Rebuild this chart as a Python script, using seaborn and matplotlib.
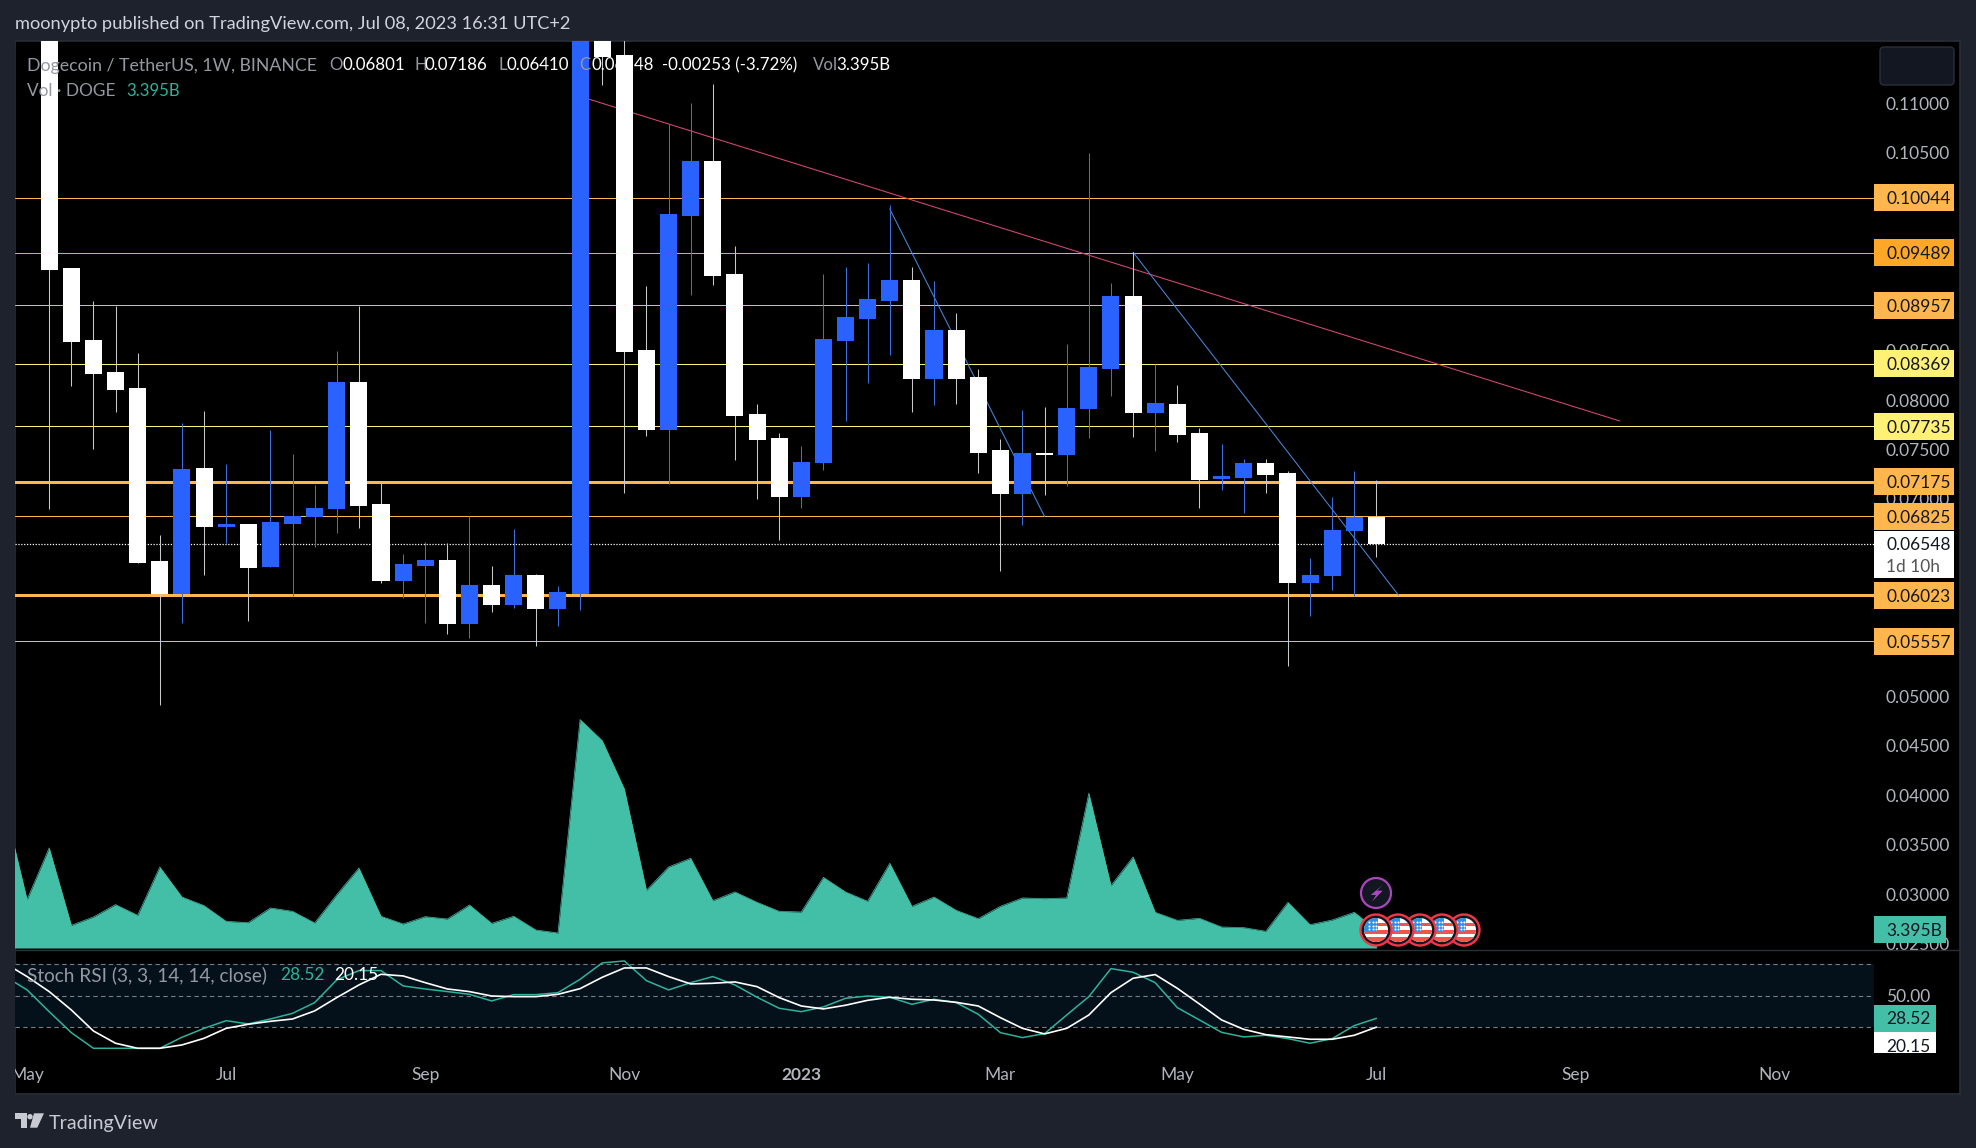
import numpy as np
import pandas as pd
import matplotlib
matplotlib.use("Agg")
import matplotlib.pyplot as plt
import seaborn as sns
from matplotlib.patches import Rectangle, Circle, Polygon, FancyBboxPatch

# ---------- data ----------
opens = [0.12500,0.09323,0.08592,0.08271,0.08113,0.06360,0.06035,0.07300,0.06717,0.06735,0.06306,0.06749,0.06813,0.06893,0.08172,0.06939,0.06171,0.06324,0.06365,0.05737,0.06112,0.05927,0.06220,0.05886,0.06035,0.14000,0.11482,0.08497,0.07697,0.09865,0.10403,0.09265,0.07847,0.07603,0.07020,0.07359,0.08596,0.08822,0.09003,0.09201,0.08212,0.08696,0.08217,0.07485,0.07051,0.07454,0.07440,0.07906,0.08316,0.09044,0.07869,0.07946,0.07657,0.07201,0.07214,0.07350,0.07250,0.06148,0.06216,0.06672,0.06801]
closes = [0.09314,0.08587,0.08262,0.08099,0.06351,0.06035,0.07295,0.06717,0.06735,0.06302,0.06749,0.06817,0.06898,0.08172,0.06930,0.06171,0.06324,0.06365,0.05733,0.06112,0.05927,0.06216,0.05886,0.06044,0.14000,0.11469,0.08488,0.07697,0.09865,0.10403,0.09256,0.07837,0.07594,0.07020,0.07359,0.08601,0.08827,0.09007,0.09201,0.08212,0.08696,0.08212,0.07463,0.07047,0.07449,0.07440,0.07910,0.08321,0.09039,0.07869,0.07955,0.07648,0.07187,0.07223,0.07350,0.07241,0.06148,0.06216,0.06672,0.06801,0.06548]
highs = [0.13000,0.09323,0.09003,0.08953,0.08474,0.06636,0.07765,0.07887,0.07350,0.06735,0.07697,0.07454,0.07142,0.08497,0.08953,0.07183,0.06446,0.06559,0.06550,0.06830,0.06320,0.06695,0.06243,0.06117,0.15000,0.14500,0.12000,0.09152,0.10796,0.11004,0.11198,0.09558,0.07959,0.07666,0.07539,0.09274,0.09346,0.09382,0.09969,0.09346,0.09201,0.08885,0.08312,0.07607,0.07901,0.07928,0.08565,0.10498,0.09183,0.09495,0.08366,0.08154,0.07720,0.07553,0.07404,0.07404,0.07277,0.06401,0.07020,0.07282,0.07186]
lows = [0.06898,0.08140,0.07503,0.07883,0.06351,0.04915,0.05742,0.06229,0.06555,0.05760,0.06306,0.06022,0.06514,0.06654,0.06704,0.06148,0.05995,0.05742,0.05633,0.05597,0.05859,0.05891,0.05516,0.05715,0.05877,0.11189,0.07061,0.07634,0.07146,0.09061,0.09165,0.07395,0.06997,0.06582,0.06907,0.07295,0.07788,0.08172,0.08456,0.07883,0.07946,0.07959,0.07259,0.06266,0.06740,0.07043,0.07133,0.07612,0.08041,0.07630,0.07485,0.07575,0.06907,0.07088,0.06862,0.07061,0.05308,0.05814,0.06076,0.06022,0.06410]
# volume in billions, from two weeks before the first candle
volume_b = [26.5,9.12,18.87,4.28,5.85,8.18,6.16,15.28,9.62,7.99,5.03,4.78,7.55,6.92,4.72,10.06,15.1,5.98,4.53,5.91,5.47,8.11,4.65,5.98,3.40,2.83,43.09,39.12,30.0,10.88,15.28,16.92,8.93,10.57,8.62,6.92,6.79,13.33,10.57,8.81,15.98,7.86,9.62,7.11,5.54,7.86,9.44,9.31,9.44,29.19,11.76,17.17,6.73,5.22,5.6,3.96,3.84,3.15,8.62,4.40,5.28,6.73,3.395]
stoch_k = [68.6,55.6,34.9,14.9,0,0,0,0,10.5,19.0,26.3,23.2,27.9,33.3,43.5,65.1,74.0,74.0,59.4,56.5,54.0,51.4,45.1,51.1,51.1,53.0,65.7,81.3,83.2,64.4,55.6,62.5,68.3,60.3,48.6,38.1,34.9,39.4,47.6,49.8,48.6,41.9,46.7,43.5,32.4,14.9,10.2,14.0,31.7,49.2,75.9,72.4,62.5,38.7,27.0,15.2,10.8,12.4,9.2,4.8,9.2,21.6,28.52]
stoch_d = [81.0,68.3,54.0,36.5,16.5,4.8,0,0,3.2,9.5,19.0,22.9,25.7,27.9,35.6,48.3,60.3,70.5,68.9,62.5,56.5,54.0,49.8,49.2,49.2,51.4,56.8,67.6,76.5,76.5,68.3,61.3,61.9,63.2,58.7,48.3,40.3,37.5,41.0,45.7,48.6,46.7,46.0,43.8,40.3,29.2,19.0,13.7,19.0,31.7,53.0,66.7,70.2,57.1,42.2,27.0,18.1,13.0,10.8,8.6,8.6,12.4,20.15]
level_prices = [0.10044,0.09489,0.08957,0.08369,0.07735,0.07175,0.06825,0.06023,0.05557]
level_labels = ["0.10044","0.09489","0.08957","0.08369","0.07735","0.07175","0.06825","0.06023","0.05557"]
level_colors = ["#ffb74d","#ffa726","#ffb74d","#fff176","#fff176","#ffb74d","#ffb74d","#ffb74d","#ffb74d"]
level_widths = [1,1,1,1,1,3,1,3,1]
price_ticks = [0.11,0.105,0.085,0.08,0.075,0.07,0.05,0.045,0.04,0.035,0.03,0.025]
last_price = 0.06548
time_pos = [-1,8,17,26,34,43,51,60,69,78]
time_labels = ["May","Jul","Sep","Nov","2023","Mar","May","Jul","Sep","Nov"]
pink_i, pink_p = [24.4,71.0],[0.11044,0.07788]
blue1_i, blue1_p = [38,45],[0.09933,0.06821]
blue2_i, blue2_p = [49,61],[0.09495,0.06026]

# ---------- style ----------
FRAME="#1e222d"; GRID="#2a2e39"; BLUE="#2962ff"; TEAL="#43bfa8"; AXIS="#b2b5be"; MUTED="#9598a1"
sns.set_theme(style="dark")
FONT=["Lato","DejaVu Sans"]
plt.rcParams["font.family"]=FONT
W,H=1976,1148
fig=plt.figure(figsize=(W/100,H/100),dpi=100,facecolor=FRAME)
def box(l,t,r,b): return [l/W,1-b/H,(r-l)/W,(b-t)/H]
bg=Rectangle((15/W,1-1094/H),1945/W,1053/H,transform=fig.transFigure,facecolor="black",edgecolor=GRID,linewidth=1.2,zorder=-5)
fig.patches.append(bg)

XMIN=(15-49.2)/22.12; XMAX=(1874-49.2)/22.12
candle_idx=np.arange(len(opens))
ind_idx=np.arange(-2,len(opens))

# volume pane
axv=fig.add_axes(box(15,41,1874,950),facecolor="none")
vol_df=pd.DataFrame({"i":ind_idx,"v":volume_b})
axv.fill_between(vol_df["i"],vol_df["v"],0,color=TEAL,linewidth=0)
sns.lineplot(data=vol_df,x="i",y="v",ax=axv,color=TEAL,linewidth=0.5,legend=False)
axv.set_xlim(XMIN,XMAX); axv.set_ylim(-2/5.302,907/5.302); axv.axis("off")

# price pane
ax=fig.add_axes(box(15,41,1874,950),facecolor="none")
ax.set_xlim(XMIN,XMAX); ax.set_ylim(0.02436,0.11632)
for p,c_,w in zip(level_prices,level_colors,level_widths):
    ax.axhline(p,color=c_,linewidth=w*0.72,zorder=1)
ax.axhline(last_price,color="white",linewidth=0.9,linestyle=(0,(1,1.3)),zorder=1)
ax.plot(pink_i,pink_p,color="#d8487a",linewidth=0.75,zorder=1.5)
ax.plot(blue1_i,blue1_p,color="#4a86d8",linewidth=0.75,zorder=1.5)
ax.plot(blue2_i,blue2_p,color="#4a86d8",linewidth=0.75,zorder=1.5)
o=np.array(opens);c=np.array(closes);hi=np.array(highs);lo=np.array(lows)
colors=np.where(c>o,BLUE,"#ffffff")
wick=np.where(c>o,"#3a6fe0","#c9c9c9")
ax.vlines(candle_idx,lo,hi,colors=list(wick),linewidth=0.75,zorder=2)
ax.bar(candle_idx,np.abs(c-o)+0.00012,bottom=np.minimum(o,c),width=0.77,color=list(colors),linewidth=0,zorder=3)
ax.yaxis.tick_right()
ax.set_yticks(price_ticks)
ax.set_yticklabels([f"{t:.5f}" for t in price_ticks],color=AXIS,fontsize=12.5,ha="left")
ax.tick_params(axis="y",length=0,pad=8.6)
ax.set_xticks([]); ax.grid(False)
for s in ax.spines.values(): s.set_visible(False)

# stochastic pane
axs=fig.add_axes(box(15,952,1874,1053),facecolor="none")
axs.axhspan(20,80,color="#04111b",linewidth=0,zorder=0)
for lv in (80,50,20):
    axs.axhline(lv,color="#787b86",linewidth=0.8,linestyle=(0,(4,3)),zorder=1)
sto=pd.DataFrame({"i":ind_idx,"k":stoch_k,"d":stoch_d})
sns.lineplot(data=sto,x="i",y="k",ax=axs,color="#2db39c",linewidth=1.1,legend=False,zorder=2)
sns.lineplot(data=sto,x="i",y="d",ax=axs,color="white",linewidth=1.2,legend=False,zorder=3)
axs.set_xlim(XMIN,XMAX); axs.set_ylim(-4.48,91.7)
axs.yaxis.tick_right(); axs.set_yticks([50]); axs.set_yticklabels(["50.00"],color=AXIS,fontsize=12.5,ha="left")
axs.tick_params(axis="y",length=0,pad=8.6)
axs.set_xticks(time_pos); axs.set_xticklabels(time_labels,color=AXIS,fontsize=12.5)
axs.tick_params(axis="x",length=0,pad=10.3)
axs.set_xlabel("");axs.set_ylabel("");axs.grid(False)
for s in axs.spines.values(): s.set_visible(False)
for t in axs.get_xticklabels():
    if t.get_text()=="2023": t.set_fontweight("bold")

# overlay in pixel coordinates
ov=fig.add_axes([0,0,1,1],facecolor="none")
ov.set_xlim(0,W); ov.set_ylim(H,0); ov.axis("off")
ov.add_patch(Rectangle((0,0),14.5,H,facecolor=FRAME,linewidth=0,zorder=1))
ov.plot([15,1960],[950,950],color=GRID,linewidth=1,zorder=1)
def T(x,y,s,color=AXIS,size=12.5,**kw):
    return ov.text(x,y,s,color=color,fontsize=size,va="center_baseline",ha=kw.pop("ha","left"),zorder=kw.pop("zorder",8),**kw)
T(15,23,"moonypto published on TradingView.com, Jul 08, 2023 16:31 UTC+2",color="#d1d4dc",size=13.15)
T(27,64,"Dogecoin / TetherUS, 1W, BINANCE",color=MUTED,size=12.75)
for x,s,col in [(329,"O",MUTED),(342,"0.06801","white"),
                (414,"H",MUTED),(424,"0.07186","white"),(498,"L",MUTED),(506,"0.06410","white"),
                (579,"C",MUTED),(591,"0.06548","white"),(662,"-0.00253 (-3.72%)","white"),
                (813,"Vol",MUTED),(836,"3.395B","white")]:
    T(x,64,s,color=col,size=12.2)
T(27,90,"Vol · DOGE",color=MUTED,size=12.4); T(126,90,"3.395B",color="#2db39c",size=12.1)
T(27,974,"Stoch RSI (3, 3, 14, 14, close)",color=MUTED,size=13.7)
T(280,974,"28.52",color="#2db39c",size=12.5); T(334,974,"20.15",color="white",size=12.5)

ov.add_patch(FancyBboxPatch((1884,51),66,30,boxstyle="round,pad=4",facecolor="#131722",edgecolor=GRID,linewidth=1,zorder=4))
# price labels follow the price scale
def px(p): return ov.transData.inverted().transform(ax.transData.transform((0,p)))[1]
for p,lab,col in zip(level_prices,level_labels,level_colors):
    y=px(p)
    ov.add_patch(Rectangle((1874,y-13.5),80,27,facecolor=col,linewidth=0,zorder=6))
    T(1886,y,lab,color="#131722")
y=px(last_price)
ov.add_patch(Rectangle((1874,y-13),80,47,facecolor="white",linewidth=0,zorder=6))
T(1886,y,f"{last_price:.5f}",color="#131722"); T(1886,y+22,"1d 10h",color="#555555")
ov.add_patch(Rectangle((1874,916),72,27,facecolor=TEAL,linewidth=0,zorder=6)); T(1886,930,"3.395B",color="#131722")
ov.add_patch(Rectangle((1874,1005),62,26.5,facecolor=TEAL,linewidth=0,zorder=6)); T(1886,1018,"28.52",color="#131722")
ov.add_patch(Rectangle((1874,1031.5),62,21.5,facecolor="white",linewidth=0,zorder=6)); T(1886,1045,"20.15",color="#131722")

# bolt
ov.add_patch(Circle((1376,893),15,facecolor="#131722",edgecolor="#ab47bc",linewidth=1.6,zorder=5))
ov.add_patch(Polygon([(1382.7,885),(1370.7,895),(1376,895),(1372,901.7),(1382.7,890.7),(1377,890.7)],closed=True,facecolor="#ab47bc",linewidth=0,zorder=5.1))
# flags, left one on top
for n,cx in enumerate([1464,1442,1420,1398,1376]):
    z=5+n*0.1
    cy=930
    ov.add_patch(Circle((cx,cy),15.5,facecolor="#131722",edgecolor="#f23645",linewidth=1.7,zorder=z))
    clip=Circle((cx,cy),12,transform=ov.transData)
    for yy,hh,cc in [(-12,24,"#ffffff"),(-7.3,3.6,"#f0544f"),(0,3.7,"#f0544f"),(7.3,5,"#f0544f")]:
        r=ov.add_patch(Rectangle((cx-12,cy+yy),24,hh,facecolor=cc,linewidth=0,zorder=z+0.01)); r.set_clip_path(clip)
    r=ov.add_patch(Rectangle((cx-12,cy-12),13.7,12.7,facecolor="#2f8fe8",linewidth=0,zorder=z+0.02)); r.set_clip_path(clip)
    xs=[cx+d for d in (-7.5,-3.5,0.0)]*3
    ys=[cy+d for d in (-8,-4.5,-1) for _ in range(3)]
    ov.scatter(xs,ys,s=2.2,color="white",linewidths=0,zorder=z+0.03,clip_path=clip)

# logo
lg="#c8cad3"
ov.add_patch(Polygon([(15,1113.3),(26.7,1113.3),(26.7,1127.7),(20.7,1127.7),(20.7,1119),(15,1119)],facecolor=lg,linewidth=0,zorder=8))
ov.add_patch(Circle((30,1116.7),2.7,facecolor=lg,linewidth=0,zorder=8))
ov.add_patch(Polygon([(34,1113.3),(44,1113.3),(37.3,1127.7),(30,1127.7)],facecolor=lg,linewidth=0,zorder=8))
T(49,1122,"TradingView",color=lg,size=14.2)

fig.savefig("out.png",dpi=100,facecolor=FRAME)
